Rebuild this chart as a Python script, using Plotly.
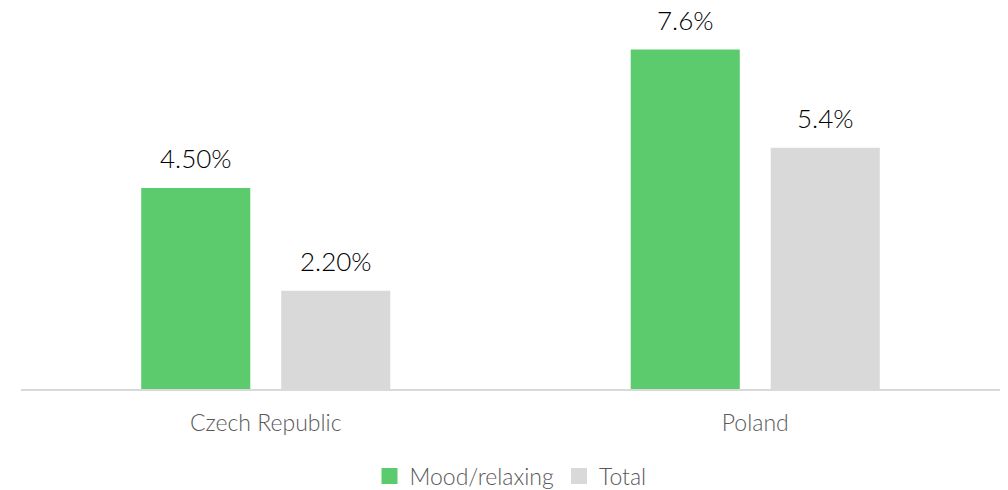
import plotly.graph_objects as go

categories = ["Czech Republic", "Poland"]
mood_values = [4.5, 7.6]
total_values = [2.2, 5.4]
mood_labels = ["4.50%", "7.6%"]
total_labels = ["2.20%", "5.4%"]

GREEN = "#5BCB6E"
GRAY = "#D9D9D9"
FONT = "Lato"

fig = go.Figure()
fig.add_trace(go.Bar(
    x=categories, y=mood_values, name="Mood/relaxing",
    marker=dict(color=GREEN, line=dict(width=0)), showlegend=False,
))
fig.add_trace(go.Bar(
    x=categories, y=total_values, name="Total",
    marker=dict(color=GRAY, line=dict(width=0)), showlegend=False,
))
# legend entries with larger square swatches
for name, color in [("Mood/relaxing", GREEN), ("Total", GRAY)]:
    fig.add_trace(go.Scatter(
        x=[None], y=[None], mode="markers", name=name,
        marker=dict(symbol="square", size=16, color=color),
    ))

# value labels floating above each bar
for values, labels, shift in [(mood_values, mood_labels, -70), (total_values, total_labels, 70)]:
    for cat, v, lab in zip(categories, values, labels):
        fig.add_annotation(
            x=cat, y=v, text=lab, showarrow=False,
            xanchor="center", yanchor="bottom", xshift=shift, yshift=12,
            font=dict(size=26, color="#000000", family=FONT, weight=300),
        )

fig.update_layout(
    width=1008, height=490,
    margin=dict(l=21, r=8, t=0, b=101, autoexpand=False),
    paper_bgcolor="white", plot_bgcolor="white",
    barmode="group", bargap=0.428, bargroupgap=0.221,
    font=dict(family=FONT, color="#595959", size=21),
    showlegend=True,
    legend=dict(
        orientation="h", x=0.5, xanchor="center", y=-0.224, yanchor="middle",
        font=dict(size=23, color="#595959", family=FONT, weight=300),
        itemwidth=30, tracegroupgap=0,
    ),
    xaxis=dict(
        showline=True, linecolor="#D9D9D9", linewidth=2,
        ticks="", tickfont=dict(size=23, color="#595959", weight=300),
        ticklabelstandoff=12, automargin=False,
        showgrid=False, zeroline=False,
    ),
    yaxis=dict(
        range=[0, 8.71], visible=False, showgrid=False, zeroline=False,
        automargin=False,
    ),
)

fig.write_html("out.html")
